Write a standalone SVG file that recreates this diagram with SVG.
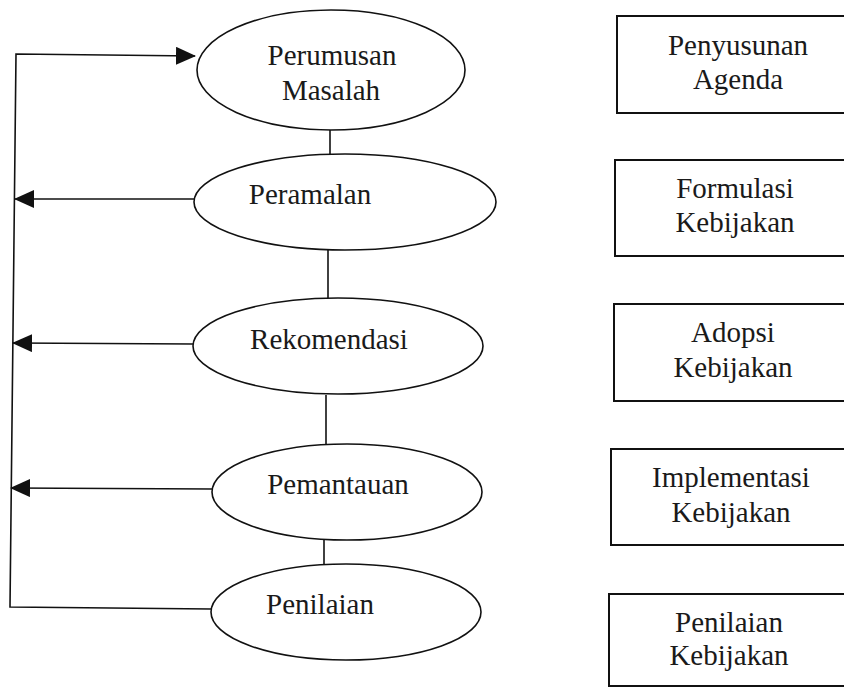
<svg xmlns="http://www.w3.org/2000/svg" width="844" height="688" viewBox="0 0 844 688">
<style>
.n{fill:#fff;stroke:#111;stroke-width:1.6}
.b{fill:#fff;stroke:#111;stroke-width:2}
.c{fill:none;stroke:#111;stroke-width:1.6}
text{font-family:"Liberation Serif","Times New Roman",serif;font-size:29px;fill:#1a1a1a;text-anchor:middle}
</style>
<defs>
<marker id="ah" viewBox="0 0 20 18" refX="19" refY="9" markerWidth="20" markerHeight="18" markerUnits="userSpaceOnUse" orient="auto">
<path d="M0,0 L20,9 L0,18 Z" fill="#111"/>
</marker>
</defs>
<rect width="844" height="688" fill="#fff"/>
<g id="connectors">
<line class="c" x1="330" y1="130" x2="330" y2="154"/>
<line class="c" x1="328" y1="250" x2="328" y2="298"/>
<line class="c" x1="326" y1="395" x2="326" y2="444"/>
<line class="c" x1="324" y1="540" x2="324" y2="564"/>
<polyline class="c" points="211,609 10,607 16,54 195,56" marker-end="url(#ah)"/>
<line class="c" x1="194" y1="199" x2="15" y2="199" marker-end="url(#ah)"/>
<line class="c" x1="193" y1="344" x2="13" y2="343" marker-end="url(#ah)"/>
<line class="c" x1="212" y1="489" x2="11" y2="488" marker-end="url(#ah)"/>
</g>
<g id="perumusan"><ellipse class="n" cx="331" cy="70" rx="134" ry="60"/><text x="332" y="65">Perumusan</text><text x="331" y="100">Masalah</text></g>
<g id="peramalan"><ellipse class="n" cx="345" cy="202" rx="151" ry="48"/><text x="310" y="204">Peramalan</text></g>
<g id="rekomendasi"><ellipse class="n" cx="338" cy="346" rx="145" ry="48"/><text x="329" y="349">Rekomendasi</text></g>
<g id="pemantauan"><ellipse class="n" cx="347" cy="492" rx="135" ry="48"/><text x="338" y="494">Pemantauan</text></g>
<g id="penilaian"><ellipse class="n" cx="346" cy="612" rx="135" ry="48"/><text x="320" y="614">Penilaian</text></g>
<g id="box-agenda"><rect class="b" x="617" y="16" width="240" height="97"/><text x="738" y="55">Penyusunan</text><text x="738" y="89">Agenda</text></g>
<g id="box-formulasi"><rect class="b" x="615" y="160" width="240" height="96"/><text x="735" y="198">Formulasi</text><text x="735" y="232">Kebijakan</text></g>
<g id="box-adopsi"><rect class="b" x="614" y="304" width="240" height="97"/><text x="733" y="342">Adopsi</text><text x="733" y="377">Kebijakan</text></g>
<g id="box-implementasi"><rect class="b" x="611" y="449" width="240" height="96"/><text x="731" y="487">Implementasi</text><text x="731" y="522">Kebijakan</text></g>
<g id="box-penilaian"><rect class="b" x="609" y="594" width="240" height="92"/><text x="729" y="632">Penilaian</text><text x="729" y="665">Kebijakan</text></g>
</svg>
